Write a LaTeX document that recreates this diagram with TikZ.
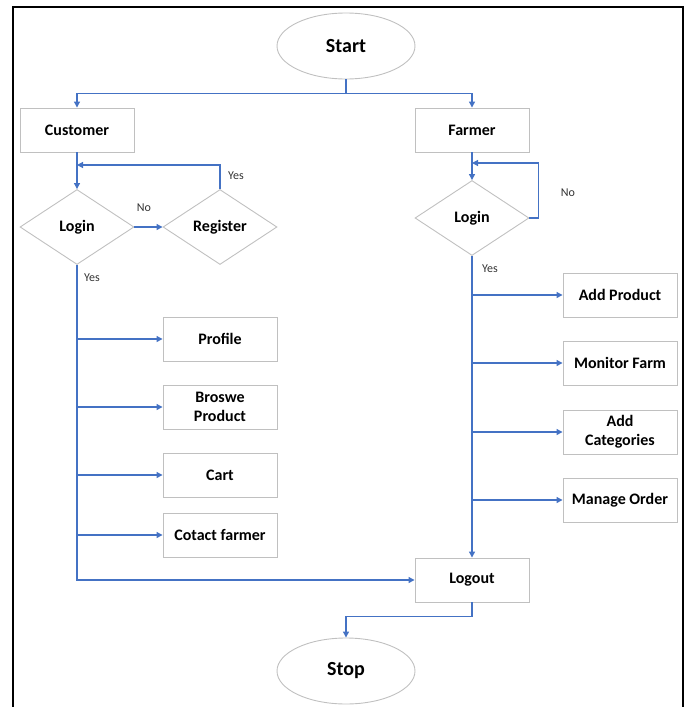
\documentclass[tikz,border=0pt]{standalone}
\usepackage{fontspec}
\setmainfont{Carlito}
\usetikzlibrary{arrows.meta,shapes.geometric}

\definecolor{flowblue}{RGB}{68,114,196}
\definecolor{boxgray}{RGB}{192,192,192}

\begin{document}
\begin{tikzpicture}[x=1pt, y=-1pt,
    every node/.style={font=\bfseries\fontsize{16}{19}\selectfont}, % bold Calibri-like labels
    box/.style={draw=boxgray, line width=0.9pt, minimum width=114pt, minimum height=44pt, inner sep=1pt, align=center},
    term/.style={draw=boxgray, ellipse, line width=0.9pt, minimum width=138pt, minimum height=66pt, font=\bfseries\fontsize{20}{24}\selectfont},
    decide/.style={draw=boxgray, diamond, aspect=1.52, line width=0.9pt, minimum width=114pt, minimum height=75pt, inner sep=0pt},
    flow/.style={draw=flowblue, line width=1.2pt, -{Triangle[width=6pt,length=6pt]}},
    answer/.style={font=\fontsize{12}{14}\selectfont, text=black!80}]

    % --- Page and frame ---
    \useasboundingbox (0,0) rectangle (690,707);
    \draw[line width=2pt] (13,7) rectangle (683,730);

    % --- Terminals ---
    \node[term] (start) at (346,46) {Start};
    \node[term] (stop) at (346,671) {Stop};

    % --- Customer side ---
    \node[box] (cust) at (77,130) {Customer};
    \node[decide] (clogin) at (77,227) {Login};
    \node[decide] (reg) at (220,227) {Register};
    \node[box] (prof) at (220,339) {Profile};
    \node[box] (brow) at (220,407) {Broswe\\Product};
    \node[box] (cart) at (220,475) {Cart};
    \node[box] (cont) at (220,535) {Cotact farmer};

    % --- Farmer side ---
    \node[box] (farm) at (472,130) {Farmer};
    \node[decide] (flogin) at (472,218) {Login};
    \node[box] (addp) at (620,295) {Add Product};
    \node[box] (mon) at (620,363) {Monitor Farm};
    \node[box] (addc) at (620,432) {Add\\Categories};
    \node[box] (mord) at (620,500) {Manage Order};

    \node[box] (logout) at (472,580) {Logout};

    % --- Joins for the loops ---
    \coordinate (cjoin) at (77,165);
    \coordinate (fjoin) at (472,163);

    % --- Connectors ---
    \draw[flow] (start.south) -- ++(0,14) -| (cust.north);
    \draw[flow] (start.south) -- ++(0,14) -| (farm.north);

    \draw[flow] (cust) -- (clogin);
    \draw[flow] (clogin.east) -- (reg.west);
    \draw[flow] (reg.north) |- (cjoin);
    \draw[flow] (clogin.south) |- (logout.west);
    \foreach \n in {prof,brow,cart,cont}
        \draw[flow] (clogin.south |- \n.west) -- (\n.west);

    \draw[flow] (farm) -- (flogin);
    \draw[flow] (flogin.east) -- ++(9,0) |- (fjoin);
    \draw[flow] (flogin.south) -- (logout.north);
    \foreach \n in {addp,mon,addc,mord}
        \draw[flow] (flogin.south |- \n.west) -- (\n.west);

    \draw[flow] (logout.south) -- ++(0,14) -| (stop.north);

    % --- Yes / No labels ---
    \node[answer] (yreg) at (236,176) {Yes};
    \node[answer] (nreg) at (144,208) {No};
    \node[answer] (yclog) at (92,278) {Yes};
    \node[answer] (nflog) at (568,193) {No};
    \node[answer] (yflog) at (490,269) {Yes};

\end{tikzpicture}
\end{document}
